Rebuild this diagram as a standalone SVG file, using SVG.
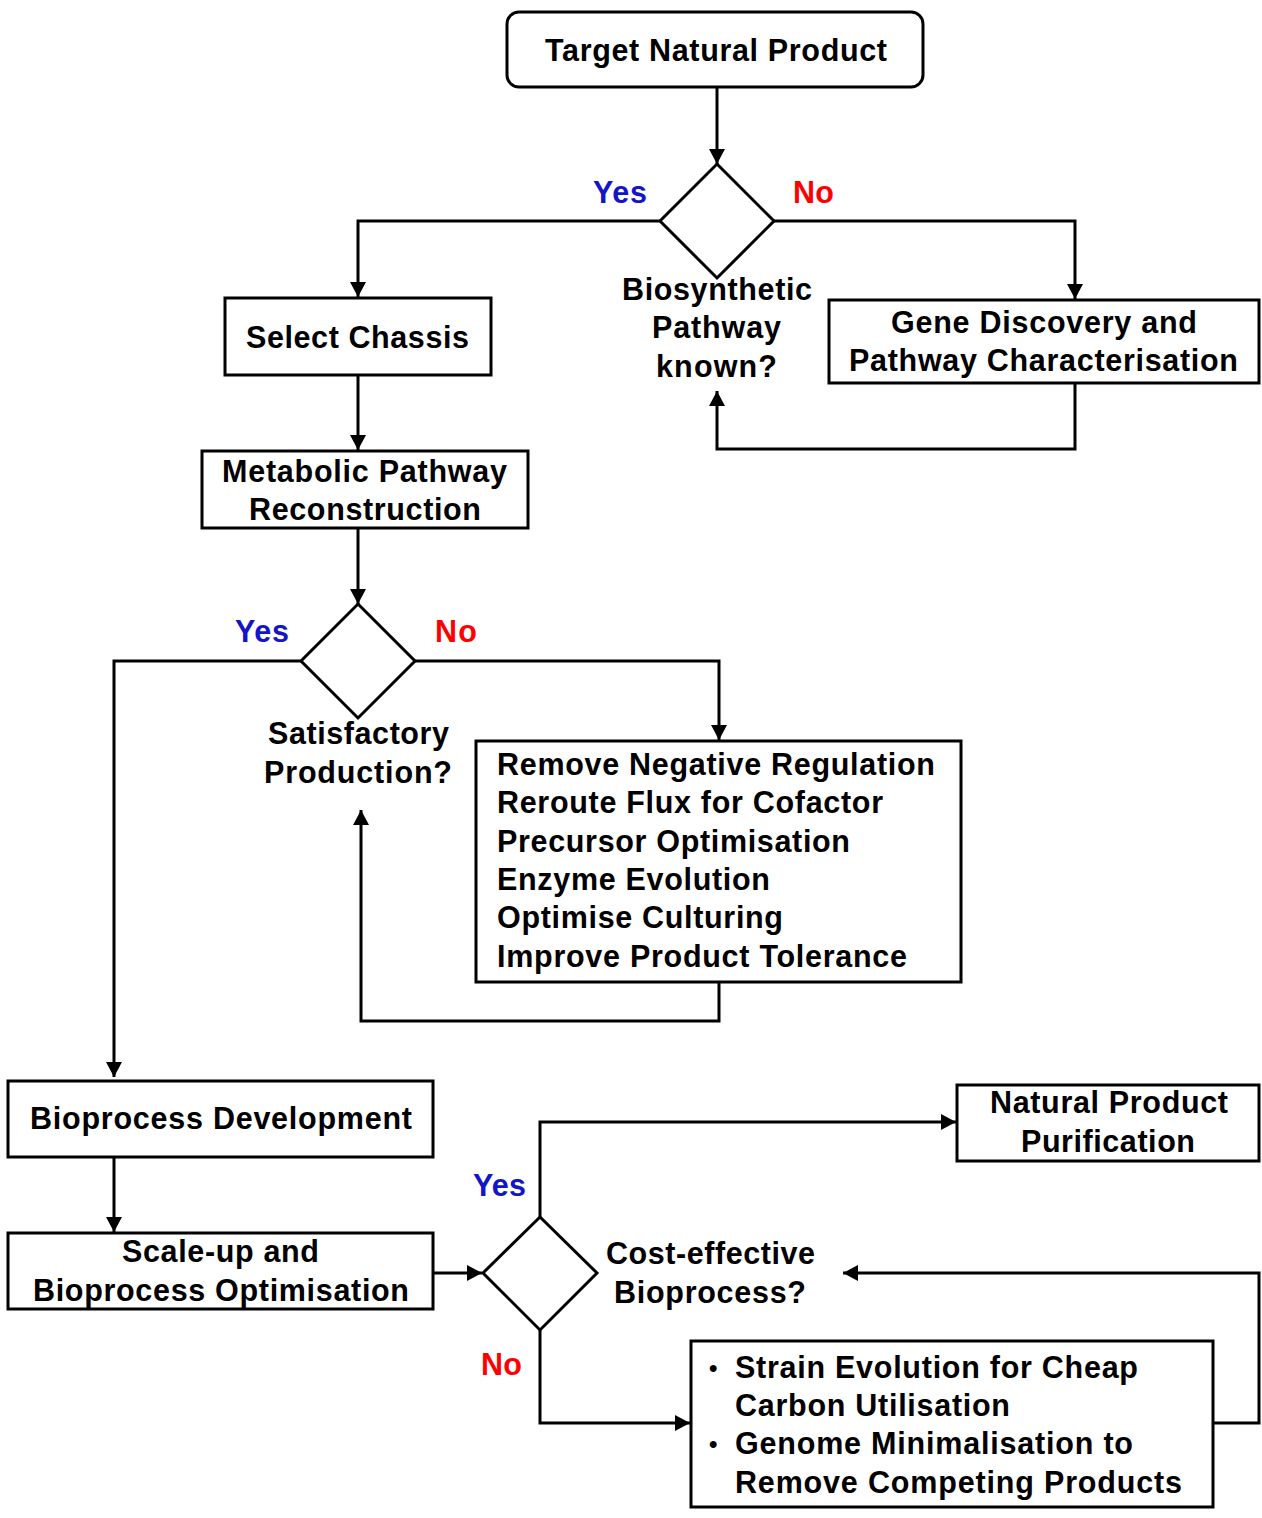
<svg xmlns="http://www.w3.org/2000/svg" width="1262" height="1518" viewBox="0 0 1262 1518">
<style>
.box{fill:#fff;stroke:#000;stroke-width:3}
.t{font-family:"Liberation Sans",Arial,sans-serif;font-weight:bold;font-size:30.5px;fill:#000}
.c{text-anchor:middle}
.yes{fill:#1414C8}
.no{fill:#FF0000}
.ln{fill:none;stroke:#000;stroke-width:3}
.la{fill:none;stroke:#000;stroke-width:3;marker-end:url(#arr)}
.bul{font-size:24px}
</style>
<defs>
<marker id="arr" viewBox="0 0 15 16" refX="15" refY="8" markerWidth="15" markerHeight="16" markerUnits="userSpaceOnUse" orient="auto">
<path d="M0,0 L15,8 L0,16 z" fill="#000"/>
</marker>
</defs>
<rect width="1262" height="1518" fill="#fff"/>
<g id="connectors">
<path class="la" d="M717,87 V164"/>
<path class="la" d="M660,221 H358 V297"/>
<path class="la" d="M774,221 H1075 V299"/>
<path class="la" d="M1075,383 V449 H717 V391"/>
<path class="la" d="M358,375 V450"/>
<path class="la" d="M358,528 V604"/>
<path class="la" d="M301,661 H114 V1077"/>
<path class="la" d="M415,661 H719 V740"/>
<path class="la" d="M719,982 V1021 H361 V810"/>
<path class="la" d="M114,1157 V1232"/>
<path class="la" d="M433,1273 H482"/>
<path class="la" d="M540,1217 V1122 H956"/>
<path class="la" d="M540,1330 V1423 H690"/>
<path class="la" d="M1213,1423 H1259 V1273 H843"/>
</g>
<g id="target">
<rect class="box" x="507" y="12" width="416" height="75" rx="12"/>
<text class="t c" x="716" y="61" textLength="342">Target Natural Product</text>
</g>
<g id="decision1">
<polygon class="box" points="717,164 774,221 717,278 660,221"/>
<text class="t yes" x="593" y="203" textLength="54">Yes</text>
<text class="t no" x="793" y="203" textLength="41">No</text>
<text class="t c" x="717" y="300" textLength="190">Biosynthetic</text>
<text class="t c" x="716.5" y="338" textLength="129">Pathway</text>
<text class="t c" x="716.5" y="377" textLength="121">known?</text>
</g>
<g id="selectChassis">
<rect class="box" x="225" y="298" width="266" height="77"/>
<text class="t c" x="357.5" y="348" textLength="223">Select Chassis</text>
</g>
<g id="geneDiscovery">
<rect class="box" x="829" y="300" width="430" height="83"/>
<text class="t c" x="1044" y="333" textLength="306">Gene Discovery and</text>
<text class="t c" x="1043.5" y="371" textLength="389">Pathway Characterisation</text>
</g>
<g id="metabolic">
<rect class="box" x="202" y="451" width="326" height="77"/>
<text class="t c" x="364.5" y="482" textLength="285">Metabolic Pathway</text>
<text class="t c" x="365" y="520" textLength="232">Reconstruction</text>
</g>
<g id="decision2">
<polygon class="box" points="358,604 415,661 358,718 301,661"/>
<text class="t yes" x="235" y="642" textLength="54">Yes</text>
<text class="t no" x="435" y="642" textLength="42">No</text>
<text class="t c" x="358.5" y="744" textLength="181">Satisfactory</text>
<text class="t c" x="358" y="783" textLength="188">Production?</text>
</g>
<g id="optimisations">
<rect class="box" x="476" y="741" width="485" height="241"/>
<text class="t" x="497" y="775" textLength="438">Remove Negative Regulation</text>
<text class="t" x="497" y="813" textLength="386">Reroute Flux for Cofactor</text>
<text class="t" x="497" y="852" textLength="353">Precursor Optimisation</text>
<text class="t" x="497" y="890" textLength="273">Enzyme Evolution</text>
<text class="t" x="497" y="928" textLength="286">Optimise Culturing</text>
<text class="t" x="497" y="967" textLength="410">Improve Product Tolerance</text>
</g>
<g id="bioprocessDev">
<rect class="box" x="8" y="1081" width="425" height="76"/>
<text class="t c" x="221" y="1129" textLength="382">Bioprocess Development</text>
</g>
<g id="scaleUp">
<rect class="box" x="8" y="1233" width="425" height="76"/>
<text class="t c" x="220.5" y="1262" textLength="197">Scale-up and</text>
<text class="t c" x="221" y="1301" textLength="376">Bioprocess Optimisation</text>
</g>
<g id="decision3">
<polygon class="box" points="540,1217 597,1273 540,1330 483,1273"/>
<text class="t yes" x="473" y="1196" textLength="53">Yes</text>
<text class="t no" x="481" y="1375" textLength="41">No</text>
<text class="t c" x="710.5" y="1264" textLength="209">Cost-effective</text>
<text class="t c" x="710" y="1303" textLength="192">Bioprocess?</text>
</g>
<g id="purification">
<rect class="box" x="957" y="1085" width="302" height="76"/>
<text class="t c" x="1109" y="1113" textLength="238">Natural Product</text>
<text class="t c" x="1108" y="1152" textLength="174">Purification</text>
</g>
<g id="strainEvolution">
<rect class="box" x="691" y="1341" width="522" height="166"/>
<text class="t bul" x="709" y="1376">•</text>
<text class="t" x="735" y="1378" textLength="403">Strain Evolution for Cheap</text>
<text class="t" x="735" y="1416" textLength="275">Carbon Utilisation</text>
<text class="t bul" x="709" y="1452">•</text>
<text class="t" x="735" y="1454" textLength="398">Genome Minimalisation to</text>
<text class="t" x="735" y="1493" textLength="447">Remove Competing Products</text>
</g>
</svg>
